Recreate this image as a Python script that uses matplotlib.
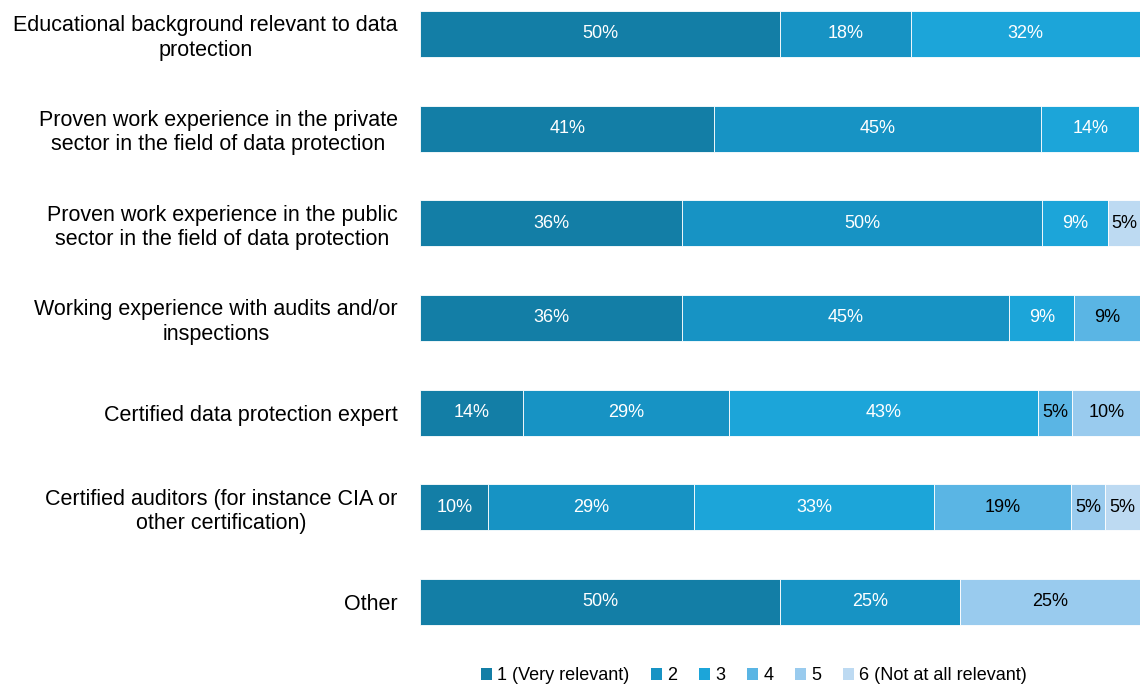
import matplotlib
matplotlib.use("Agg")
import matplotlib.pyplot as plt
from matplotlib.patches import Patch

plt.rcParams['font.family'] = ['Liberation Sans', 'DejaVu Sans']

categories = [
    "Educational background relevant to data\nprotection",
    "Proven work experience in the private\nsector in the field of data protection",
    "Proven work experience in the public\nsector in the field of data protection",
    "Working experience with audits and/or\ninspections",
    "Certified data protection expert",
    "Certified auditors (for instance CIA or\nother certification)",
    "Other",
]
series_names = ["1 (Very relevant)", "2", "3", "4", "5", "6 (Not at all relevant)"]
s1 = [50.0, 40.9, 36.4, 36.4, 14.3, 9.5, 50.0]
s2 = [18.2, 45.4, 50.0, 45.4, 28.6, 28.6, 25.0]
s3 = [31.8, 13.6, 9.1, 9.1, 42.9, 33.3, 0.0]
s4 = [0.0, 0.0, 0.0, 9.1, 4.8, 19.0, 0.0]
s5 = [0.0, 0.0, 0.0, 0.0, 9.5, 4.8, 25.0]
s6 = [0.0, 0.0, 4.6, 0.0, 0.0, 4.8, 0.0]
series = [s1, s2, s3, s4, s5, s6]
colors = ["#137EA6", "#1793C4", "#1CA5D9", "#5AB5E4", "#99CBEE", "#BDDAF2"]
text_colors = ["white", "white", "white", "black", "black", "black"]

fig = plt.figure(figsize=(11.45, 6.91), dpi=100)
ax = fig.add_axes([420/1145, 1 - 649/691, 720/1145, 649/691])

ypos = list(range(len(categories)))
left = [0.0] * len(categories)
for vals, col, tc in zip(series, colors, text_colors):
    ax.barh(ypos, vals, left=left, height=0.485, color=col,
            edgecolor="white", linewidth=0.6)
    for i, v in enumerate(vals):
        if v > 0:
            ax.text(left[i] + v / 2, ypos[i], f"{v:.0f}%", ha="center",
                    va="center", color=tc, fontsize=13)
    left = [l + v for l, v in zip(left, vals)]

ax.set_xlim(0, 100)
ax.set_ylim(6.497, -0.359)
ax.set_yticks(ypos)
ax.set_yticklabels(categories, fontsize=15.5, multialignment="center")
ax.tick_params(axis="y", length=0, pad=16)
ax.set_xticks([])
for sp in ax.spines.values():
    sp.set_visible(False)

handles = [Patch(facecolor=c, edgecolor="none") for c in colors]
fig.legend(handles, series_names, loc="center",
           bbox_to_anchor=(754/1145, 1 - 676/691), ncol=6, frameon=False,
           fontsize=13, handlelength=0.6, handleheight=0.6,
           handletextpad=0.3, columnspacing=1.2)

fig.savefig("out.png", dpi=100)
